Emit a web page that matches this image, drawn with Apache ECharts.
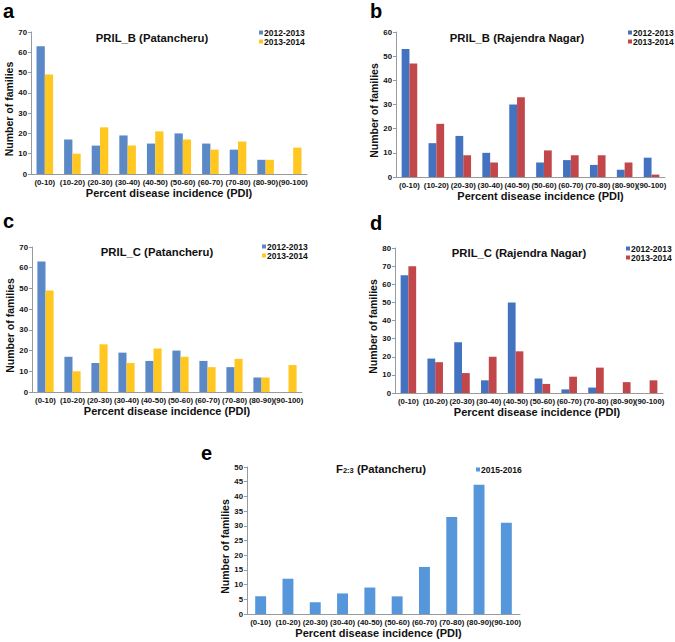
<!DOCTYPE html>
<html>
<head>
<meta charset="utf-8">
<script src="https://cdn.jsdelivr.net/npm/echarts@6/dist/echarts.min.js"></script>
<style>
  html, body { margin: 0; padding: 0; background: #fff; }
  #main { width: 675px; height: 642px; }
</style>
</head>
<body>
<div id="main"></div>
<script>
// categories shared by every panel
var categories = ['(0-10)', '(10-20)', '(20-30)', '(30-40)', '(40-50)', '(50-60)', '(60-70)', '(70-80)', '(80-90)', '(90-100)']

// a / c : PRIL_B / PRIL_C (Patancheru)
var aSeason1 = [63, 17, 14, 19, 15, 20, 15, 12, 7, 0]
var aSeason2 = [49, 10, 23, 14, 21, 17, 12, 16, 7, 13]
var cSeason1 = [63, 17, 14, 19, 15, 20, 15, 12, 7, 0]
var cSeason2 = [49, 10, 23, 14, 21, 17, 12, 16, 7, 13]
// b : PRIL_B (Rajendra Nagar)
var bSeason1 = [53, 14, 17, 10, 30, 6, 7, 5, 3, 8]
var bSeason2 = [47, 22, 9, 6, 33, 11, 9, 9, 6, 1]
// d : PRIL_C (Rajendra Nagar)
var dSeason1 = [65, 19, 28, 7, 50, 8, 2, 3, 0, 0]
var dSeason2 = [70, 17, 11, 20, 23, 5, 9, 14, 6, 7]
// e : F2:3 (Patancheru)
var eSeason = [6, 12, 4, 7, 9, 6, 16, 33, 44, 31]

var seasonNames = ['2012-2013', '2013-2014']
var yTicksA = [0, 70, 10]
var yTicksB = [0, 60, 10]
var yTicksC = [0, 70, 10]
var yTicksD = [0, 80, 10]
var yTicksE = [0, 50, 5]

var FONT = 'Liberation Sans, Arial, sans-serif'
var blueA = '#5b88c6', yellow = '#ffc71f'
var blueB = '#4373c0', red = '#c2474a'
var blueE = '#5597da'

var panels = [
  { key: 'a', title: 'PRIL_B (Patancheru)', titleX: 152, titleY: 38,
    grid: { left: 31, top: 32, width: 276, height: 142 }, ticks: yTicksA,
    series: [[seasonNames[0], aSeason1, blueA], [seasonNames[1], aSeason2, yellow]],
    legend: { left: 259, top: 28 }, letter: [3, 1], yGap: 17, xPad: [0, 0, 0, 0], barWidth: '30%' },
  { key: 'b', title: 'PRIL_B (Rajendra Nagar)', titleX: 517, titleY: 38,
    grid: { left: 396, top: 32, width: 269, height: 145 }, ticks: yTicksB,
    series: [[seasonNames[0], bSeason1, blueB], [seasonNames[1], bSeason2, red]],
    legend: { left: 628, top: 28 }, letter: [370, 1], yGap: 14, xPad: [0, 0, 0, 20], barWidth: '29%' },
  { key: 'c', title: 'PRIL_C (Patancheru)', titleX: 157, titleY: 252,
    grid: { left: 32, top: 247, width: 270, height: 145 }, ticks: yTicksC,
    series: [[seasonNames[0], cSeason1, blueA], [seasonNames[1], cSeason2, yellow]],
    legend: { left: 262, top: 242 }, letter: [3, 211], yGap: 14, xPad: [0, 0, 0, 0], barWidth: '30%' },
  { key: 'd', title: 'PRIL_C (Rajendra Nagar)', titleX: 519, titleY: 253,
    grid: { left: 395, top: 248, width: 268, height: 145 }, ticks: yTicksD,
    series: [[seasonNames[0], dSeason1, blueB], [seasonNames[1], dSeason2, red]],
    legend: { left: 626, top: 244 }, letter: [370, 213], yGap: 13, xPad: [0, 0, 0, 16], barWidth: '29%' },
  { key: 'e', title: '{m|F}{s|2:3}{m| (Patancheru)}', titleX: 381, titleY: 469,
    grid: { left: 247, top: 467, width: 273, height: 147 }, ticks: yTicksE,
    series: [['2015-2016', eSeason, blueE]],
    legend: { left: 476, top: 465 }, letter: [201, 443], yGap: 13, xPad: [0, 10, 0, 0], barWidth: '40%' }
]

var option = {
  animation: false,
  backgroundColor: '#fff',
  textStyle: { fontFamily: FONT },
  grid: [], xAxis: [], yAxis: [], series: [], legend: [], graphic: []
}

panels.forEach(function (p, i) {
  option.grid.push(Object.assign({ containLabel: false }, p.grid))
  option.xAxis.push({
    type: 'category',
    gridIndex: i,
    data: categories,
    name: 'Percent disease incidence (PDI)',
    nameLocation: 'middle',
    nameGap: 13,
    nameTextStyle: { fontSize: 11, fontWeight: 'bold', color: '#111', verticalAlign: 'top', padding: p.xPad },
    axisLine: { lineStyle: { color: '#9a9a9a', width: 1 } },
    axisTick: { show: false },
    axisLabel: { interval: 0, fontSize: 7.8, fontWeight: 'bold', color: '#111', margin: 4 }
  })
  option.yAxis.push({
    type: 'value',
    gridIndex: i,
    min: p.ticks[0],
    max: p.ticks[1],
    interval: p.ticks[2],
    name: 'Number of families',
    nameLocation: 'middle',
    nameGap: p.yGap,
    nameTextStyle: { fontSize: 10.5, fontWeight: 'bold', color: '#111', padding: [0, 12, 0, 0] },
    axisLine: { show: true, lineStyle: { color: '#9a9a9a', width: 1 } },
    axisTick: { show: true, length: 3, lineStyle: { color: '#9a9a9a' } },
    axisLabel: { fontSize: 7.8, fontWeight: 'bold', color: '#111', margin: 4 },
    splitLine: { show: false }
  })
  var names = []
  p.series.forEach(function (s) {
    var id = p.key + ' ' + s[0]
    names.push(id)
    option.series.push({
      type: 'bar',
      name: id,
      xAxisIndex: i,
      yAxisIndex: i,
      data: s[1],
      barWidth: p.barWidth,
      barGap: '0%',
      itemStyle: { color: s[2] }
    })
  })
  option.legend.push({
    data: names,
    orient: 'vertical',
    left: p.legend.left,
    top: p.legend.top,
    padding: 0,
    itemWidth: 4,
    itemHeight: 4,
    itemGap: 0,
    icon: 'rect',
    selectedMode: false,
    formatter: function (n) { return n.slice(2) },
    textStyle: { fontSize: 8.5, fontWeight: 'bold', color: '#111', padding: [0, 0, 0, -4], lineHeight: 9 }
  })
  // chart title
  option.graphic.push({
    type: 'text',
    x: p.titleX,
    y: p.titleY,
    style: {
      text: p.title,
      font: 'bold 11.3px ' + FONT,
      fill: '#111',
      align: 'center',
      verticalAlign: 'middle',
      rich: {
        m: { fontSize: 11.3, fontWeight: 'bold', fontFamily: FONT, fill: '#111' },
        s: { fontSize: 7.5, fontWeight: 'bold', fontFamily: FONT, fill: '#111', padding: [3, 0, 0, 0] }
      }
    }
  })
  // panel letter
  option.graphic.push({
    type: 'text',
    x: p.letter[0],
    y: p.letter[1],
    style: { text: p.key, font: 'bold 20px ' + FONT, fill: '#000' }
  })
})

var myChart = echarts.init(document.getElementById('main'), null, { renderer: 'svg' })
myChart.setOption(option)
window.addEventListener('resize', function () {
  myChart.resize()
})
</script>
</body>
</html>
